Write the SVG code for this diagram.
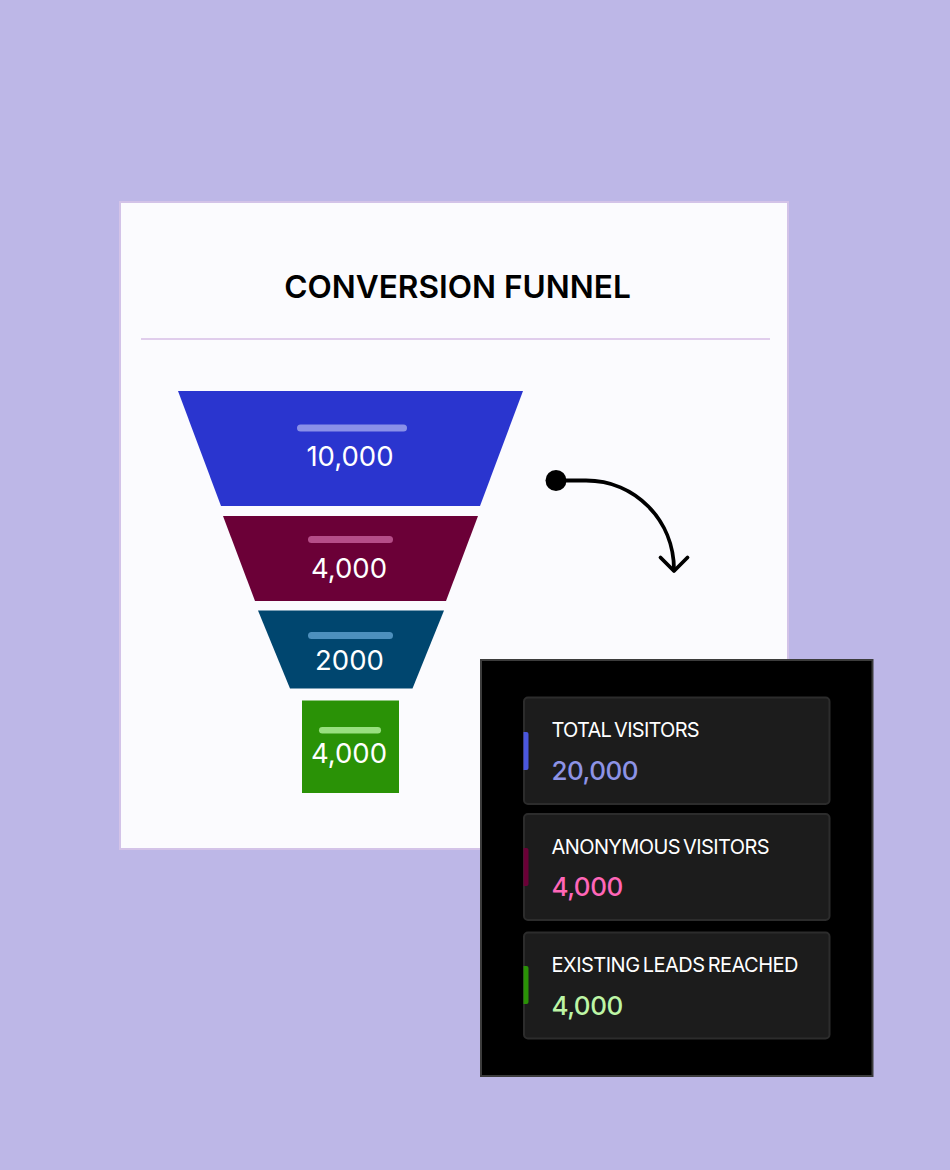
<svg xmlns="http://www.w3.org/2000/svg" width="950" height="1170" viewBox="0 0 950 1170">
<style>
text{font-family:"Inter","Liberation Sans",sans-serif}
.t{font-size:27.500px;fill:#fff;text-anchor:middle}
.l{font-size:20px;fill:#fff;word-spacing:-2px}
.v{font-size:26px;font-weight:500;letter-spacing:-.5px}
.c{fill:#1c1c1c;stroke:#2c2c2c;stroke-width:2}
.a{fill:none;stroke:#000;stroke-width:3.800;stroke-linecap:round;stroke-linejoin:round}
</style>
<rect width="950" height="1170" fill="#bdb7e7"/>
<g id="card">
<rect x="120" y="202" width="668" height="647" fill="#fbfbfe" stroke="#d3c3e8" stroke-width="2"/>
<text x="457.500" y="298" font-size="31.600" font-weight="600" fill="#000" text-anchor="middle">CONVERSION FUNNEL</text>
<rect x="141" y="338" width="629" height="2" fill="#e0cdec"/>
</g>
<g id="stage-1">
<polygon points="178,391 523,391 480,506 221,506" fill="#2a35cf"/>
<rect x="297" y="424.500" width="110" height="7" rx="3.500" fill="#8a90e8"/>
<text class="t" x="350" y="466">10,000</text>
</g>
<g id="stage-2">
<polygon points="223,516 478,516 446,601 255,601" fill="#6b0037"/>
<rect x="308" y="536" width="85" height="7" rx="3.500" fill="#b54d88"/>
<text class="t" x="349" y="578">4,000</text>
</g>
<g id="stage-3">
<polygon points="258,610.500 444,610.500 412.500,688.500 290,688.500" fill="#00466f"/>
<rect x="308" y="632" width="85" height="7" rx="3.500" fill="#4d90bd"/>
<text class="t" x="349.500" y="669.500">2000</text>
</g>
<g id="stage-4">
<rect x="302" y="700.500" width="97" height="92.500" fill="#2a9206"/>
<rect x="319" y="727" width="62" height="6.500" rx="3.250" fill="#98e07f"/>
<text class="t" x="349" y="763">4,000</text>
</g>
<g id="connectors">
<circle cx="556" cy="480.500" r="10.500" fill="#000"/>
<path class="a" d="M556 480.500H586C635 480.500 674 520 674 570"/>
<path class="a" d="M660.500 557.500L674 571L687.500 557.500"/>
</g>
<g id="panel">
<rect x="481" y="660" width="391.500" height="416" fill="#000" stroke="#3c3c3c" stroke-width="2"/>
</g>
<g id="metric-total">
<rect class="c" x="524" y="697.500" width="305.500" height="106.500" rx="4"/>
<path d="M523.500 732h3a2 2 0 0 1 2 2v34a2 2 0 0 1-2 2h-3z" fill="#4a57de"/>
<text class="l" x="551.500" y="737" letter-spacing="-.73">TOTAL VISITORS</text>
<text class="v" x="551.500" y="780" fill="#8d93e6">20,000</text>
</g>
<g id="metric-anonymous">
<rect class="c" x="524" y="814" width="305.500" height="106" rx="4"/>
<path d="M523.500 848h3a2 2 0 0 1 2 2v34a2 2 0 0 1-2 2h-3z" fill="#6b0037"/>
<text class="l" x="551.500" y="853.500" letter-spacing="-.59">ANONYMOUS VISITORS</text>
<text class="v" x="551.500" y="896" fill="#ff66b8">4,000</text>
</g>
<g id="metric-leads">
<rect class="c" x="524" y="932.500" width="305.500" height="106" rx="4"/>
<path d="M523.500 966h3a2 2 0 0 1 2 2v34a2 2 0 0 1-2 2h-3z" fill="#2a9206"/>
<text class="l" x="551.500" y="972" letter-spacing="-.51">EXISTING LEADS REACHED</text>
<text class="v" x="551.500" y="1014.500" fill="#bdf5a5">4,000</text>
</g>
</svg>
